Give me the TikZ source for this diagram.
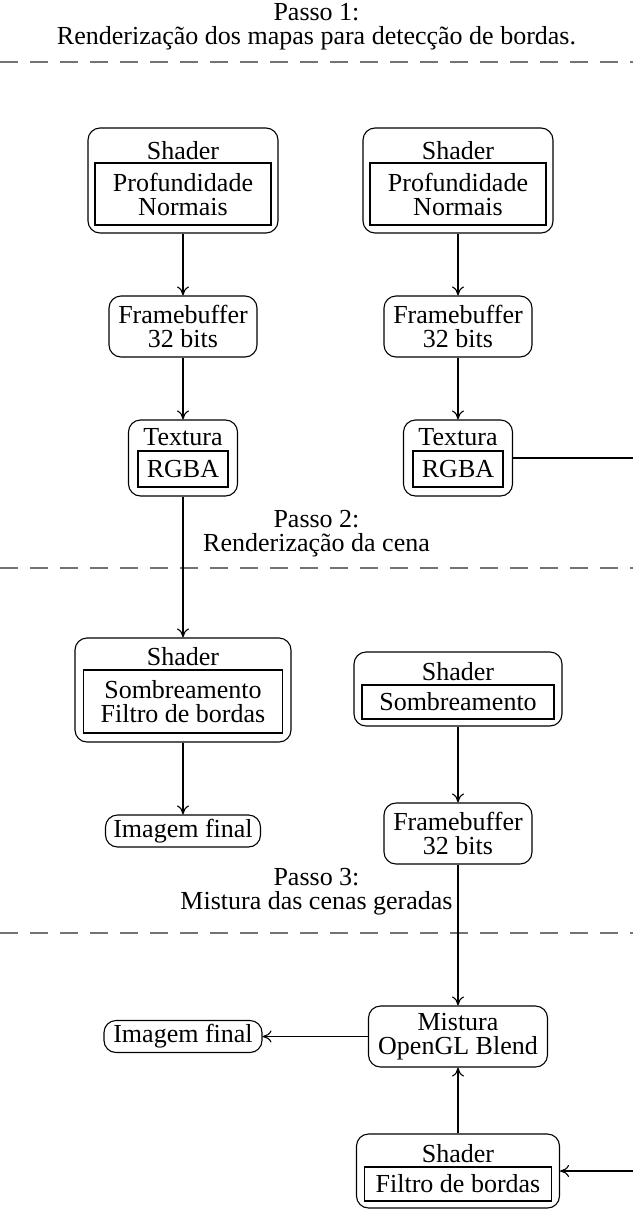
\documentclass[tikz,border=0pt]{standalone}
\usepackage{fontspec}
\setmainfont{Liberation Serif}
\usetikzlibrary{arrows.meta,positioning}

\begin{document}
\begin{tikzpicture}[x=1pt,y=-1pt,
  font=\fontsize{26pt}{24pt}\selectfont,
  >={Computer Modern Rightarrow[length=9pt,width=12pt]},
  pbox/.style={draw, rounded corners=12pt, align=center, inner sep=0pt, line width=1.1pt},
  inbox/.style={draw, align=center, inner sep=0pt, line width=1.1pt},
  boxtitle/.style={inner sep=0pt, anchor=base},
  steptitle/.style={align=center, inner sep=0pt},
  divider/.style={draw=black!55, line width=1.2pt, dash pattern=on 18pt off 12pt},
  link/.style={draw, ->, line width=1.1pt}]
  \useasboundingbox (0,0) rectangle (633,1210);

  % passo 1
  \node [steptitle] (p1) at (316.5,27) {Passo 1:\\Renderização dos mapas para detecção de bordas.};
  \coordinate (d1a) at (0,62);
  \coordinate (d1b) at (633,62);
  \draw [divider] (d1a) -- (d1b);

  \node [pbox, minimum width=190pt, minimum height=105pt] (sh1) at (183,180.5) {};
  \node [boxtitle] (sh1t) at (183,159) {Shader};
  \node [inbox, minimum width=176pt, minimum height=62pt] (in1) at (183,194) {Profundidade\\Normais};
  \node [pbox, minimum width=190pt, minimum height=105pt] (sh2) at (458,180.5) {};
  \node [boxtitle] (sh2t) at (458,159) {Shader};
  \node [inbox, minimum width=176pt, minimum height=62pt] (in2) at (458,194) {Profundidade\\Normais};

  \node [pbox, minimum width=148pt, minimum height=61pt] (fb1) at (183,326.5) {Framebuffer\\32 bits};
  \node [pbox, minimum width=148pt, minimum height=61pt] (fb2) at (458,326.5) {Framebuffer\\32 bits};

  \node [pbox, minimum width=109pt, minimum height=76pt] (tx1) at (183,458) {};
  \node [boxtitle] (tx1t) at (183,445) {Textura};
  \node [inbox, minimum width=90pt, minimum height=36pt] (rgba1) at (183,469) {RGBA};
  \node [pbox, minimum width=109pt, minimum height=76pt] (tx2) at (458,458) {};
  \node [boxtitle] (tx2t) at (458,445) {Textura};
  \node [inbox, minimum width=90pt, minimum height=36pt] (rgba2) at (458,469) {RGBA};
  \coordinate (e1) at (633,458);

  % passo 2
  \node [steptitle] (p2) at (316.5,533.5) {Passo 2:\\Renderização da cena};
  \coordinate (d2a) at (0,568);
  \coordinate (d2b) at (633,568);
  \draw [divider] (d2a) -- (d2b);

  \node [pbox, minimum width=216pt, minimum height=104pt] (sh3) at (183,690) {};
  \node [boxtitle] (sh3t) at (183,665) {Shader};
  \node [inbox, minimum width=199pt, minimum height=63pt] (in3) at (183,701.5) {Sombreamento\\Filtro de bordas};
  \node [pbox, minimum width=208pt, minimum height=74pt] (sh4) at (458,689) {};
  \node [boxtitle] (sh4t) at (458,680) {Shader};
  \node [inbox, minimum width=192pt, minimum height=34pt] (in4) at (458,702) {Sombreamento};

  \node [pbox, minimum width=155pt, minimum height=32pt] (img1) at (183,831) {Imagem final};
  \node [pbox, minimum width=148pt, minimum height=61pt] (fb3) at (458,833.5) {Framebuffer\\32 bits};

  % passo 3
  \node [steptitle] (p3) at (316.5,892) {Passo 3:\\Mistura das cenas geradas};
  \coordinate (d3a) at (0,933);
  \coordinate (d3b) at (633,933);
  \draw [divider] (d3a) -- (d3b);

  \node [pbox, minimum width=179pt, minimum height=61pt] (mix) at (458,1036.5) {Mistura\\OpenGL Blend};
  \node [pbox, minimum width=158pt, minimum height=32pt] (img2) at (183,1036.5) {Imagem final};
  \node [pbox, minimum width=203pt, minimum height=74pt] (sh5) at (458,1171) {};
  \node [boxtitle] (sh5t) at (458,1162) {Shader};
  \node [inbox, minimum width=187pt, minimum height=34pt] (in5) at (458,1184) {Filtro de bordas};
  \coordinate (e2) at (633,1171);

  \draw [link] (sh1) -- (fb1);
  \draw [link] (fb1) -- (tx1);
  \draw [link] (tx1) -- (sh3);
  \draw [link] (sh2) -- (fb2);
  \draw [link] (fb2) -- (tx2);
  \draw [line width=1.1pt] (tx2) -- (e1);
  \draw [link] (sh3) -- (img1);
  \draw [link] (sh4) -- (fb3);
  \draw [link] (fb3) -- (mix);
  \draw [link] (mix) -- (img2);
  \draw [link] (sh5) -- (mix);
  \draw [link] (e2) -- (sh5);
\end{tikzpicture}
\end{document}
